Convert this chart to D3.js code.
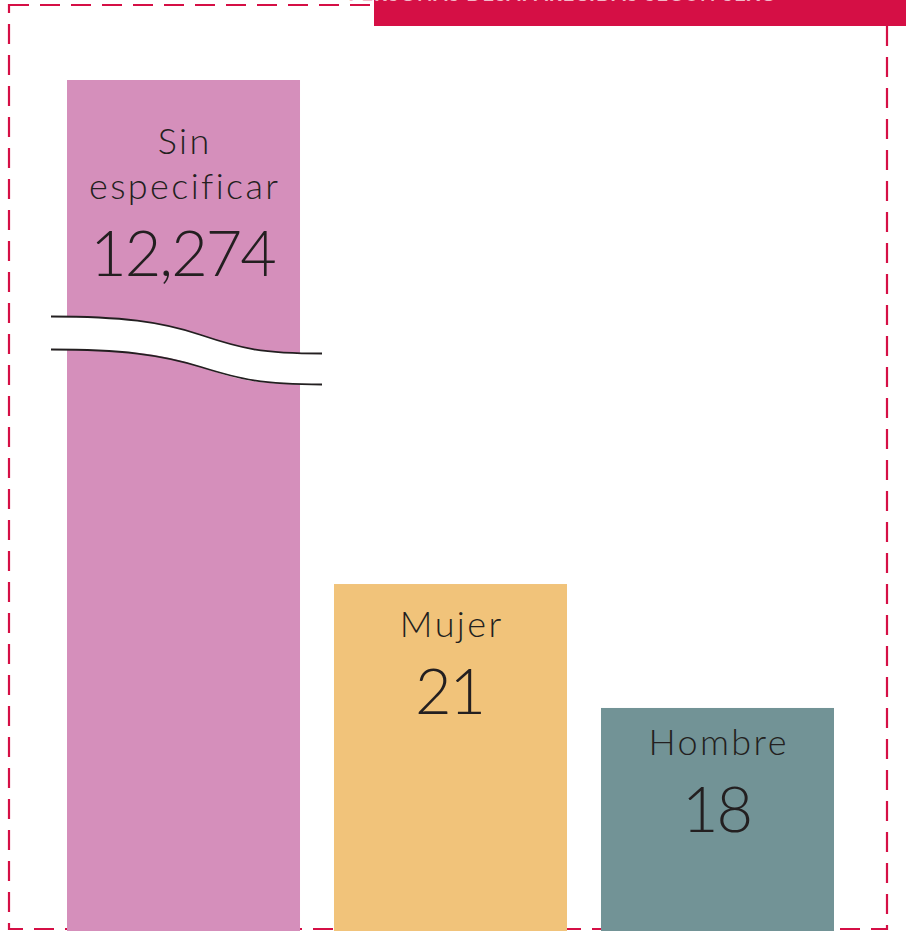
<!DOCTYPE html>
<html><head><meta charset="utf-8">
<script src="https://cdn.jsdelivr.net/npm/d3@7"></script>
<style>html,body{margin:0;padding:0;background:#fff;overflow:hidden}</style>
</head><body>
<script>
const categories = ["Sin especificar", "Mujer", "Hombre"];
const labelLines = [["Sin", "especificar"], ["Mujer"], ["Hombre"]];
const values = [12274, 21, 18];
const colors = ["#d58fbb", "#f1c37a", "#729396"];
const brokenCap = 33.2;     // display value for the broken (axis-break) bar
const title = "PERSONAS DESAPARECIDAS SEGÚN SEXO";

const W = 906, H = 931;
const svg = d3.select("body").append("svg").attr("width", W).attr("height", H);

const x = d3.scaleBand().domain(categories).range([67, 834]).paddingInner(0.1273).paddingOuter(0);
const y = d3.scaleLinear().domain([12.65, brokenCap]).range([929, 80]);
const labelGap = [74, 53, 47];   // label baseline offset from bar top (style)

// dashed frame
svg.append("rect").attr("x", 9).attr("y", 5).attr("width", 878).attr("height", 924)
  .attr("fill", "none").attr("stroke", "#d50f45").attr("stroke-width", 2.2)
  .attr("stroke-dasharray", "20,11");

// title box (cropped at top of picture, as in the reference)
svg.append("rect").attr("x", 374).attr("y", -10).attr("width", 540).attr("height", 36).attr("fill", "#d50f45");
svg.append("text").attr("x", 563).attr("y", 1.2).attr("text-anchor", "middle")
  .attr("font-family", "Lato").attr("font-weight", 700).attr("font-size", 20)
  .attr("fill", "#f2b9c8").attr("letter-spacing", 1).text(title);

const bw = x.bandwidth();
const g = svg.append("g");
categories.forEach((c, i) => {
  const v = Math.min(values[i], brokenCap);
  g.append("rect").attr("x", x(c)).attr("y", y(v)).attr("width", bw).attr("height", y.range()[0] - y(v) + 2)
    .attr("fill", colors[i]);
});

// axis break on first bar
const c0 = x(categories[0]);
const x0 = c0 - 16, x1 = c0 + bw + 22;
const curve = (yl, yr) => `M${x0},${yl} C${x0+70},${yl} ${x0+110},${yl+5} ${x0+150},${(yl+yr)/2} S${x1-60},${yr} ${x1},${yr}`;
const top1 = 316.5, top2 = 353.5, bot1 = 349.5, bot2 = 384.5;
svg.append("path")
  .attr("d", curve(top1, top2) + ` L${x1},${bot2} ` +
    `C${x1-60},${bot2} ${x0+190},${bot2-3} ${x0+150},${(bot1+bot2)/2} S${x0+70},${bot1} ${x0+1},${bot1} Z`)
  .attr("fill", "#fff");
svg.append("path").attr("d", curve(top1, top2)).attr("fill", "none").attr("stroke", "#231f20").attr("stroke-width", 1.8);
svg.append("path").attr("d", curve(bot1, bot2)).attr("fill", "none").attr("stroke", "#231f20").attr("stroke-width", 1.8);

// labels
const fmt = d3.format(",");
const font = "Lato";
categories.forEach((c, i) => {
  const cx = x(c) + bw / 2;
  const v = Math.min(values[i], brokenCap);
  const top = y(v);
  const lines = labelLines[i];
  lines.forEach((ln, k) => {
    svg.append("text").attr("x", cx + 1.2).attr("y", top + labelGap[i] + k * 45).attr("text-anchor", "middle")
      .attr("font-family", font).attr("font-weight", 300).attr("font-size", 36)
      .attr("letter-spacing", 2.4).attr("fill", "#231f20").text(ln);
  });
  svg.append("text").attr("x", cx - 1).attr("y", top + labelGap[i] + (lines.length - 1) * 45 + 77)
    .attr("text-anchor", "middle")
    .attr("font-family", font).attr("font-weight", 300).attr("font-size", 63)
    .attr("letter-spacing", -2).attr("fill", "#231f20").text(fmt(values[i]));
});
</script>
</body></html>
